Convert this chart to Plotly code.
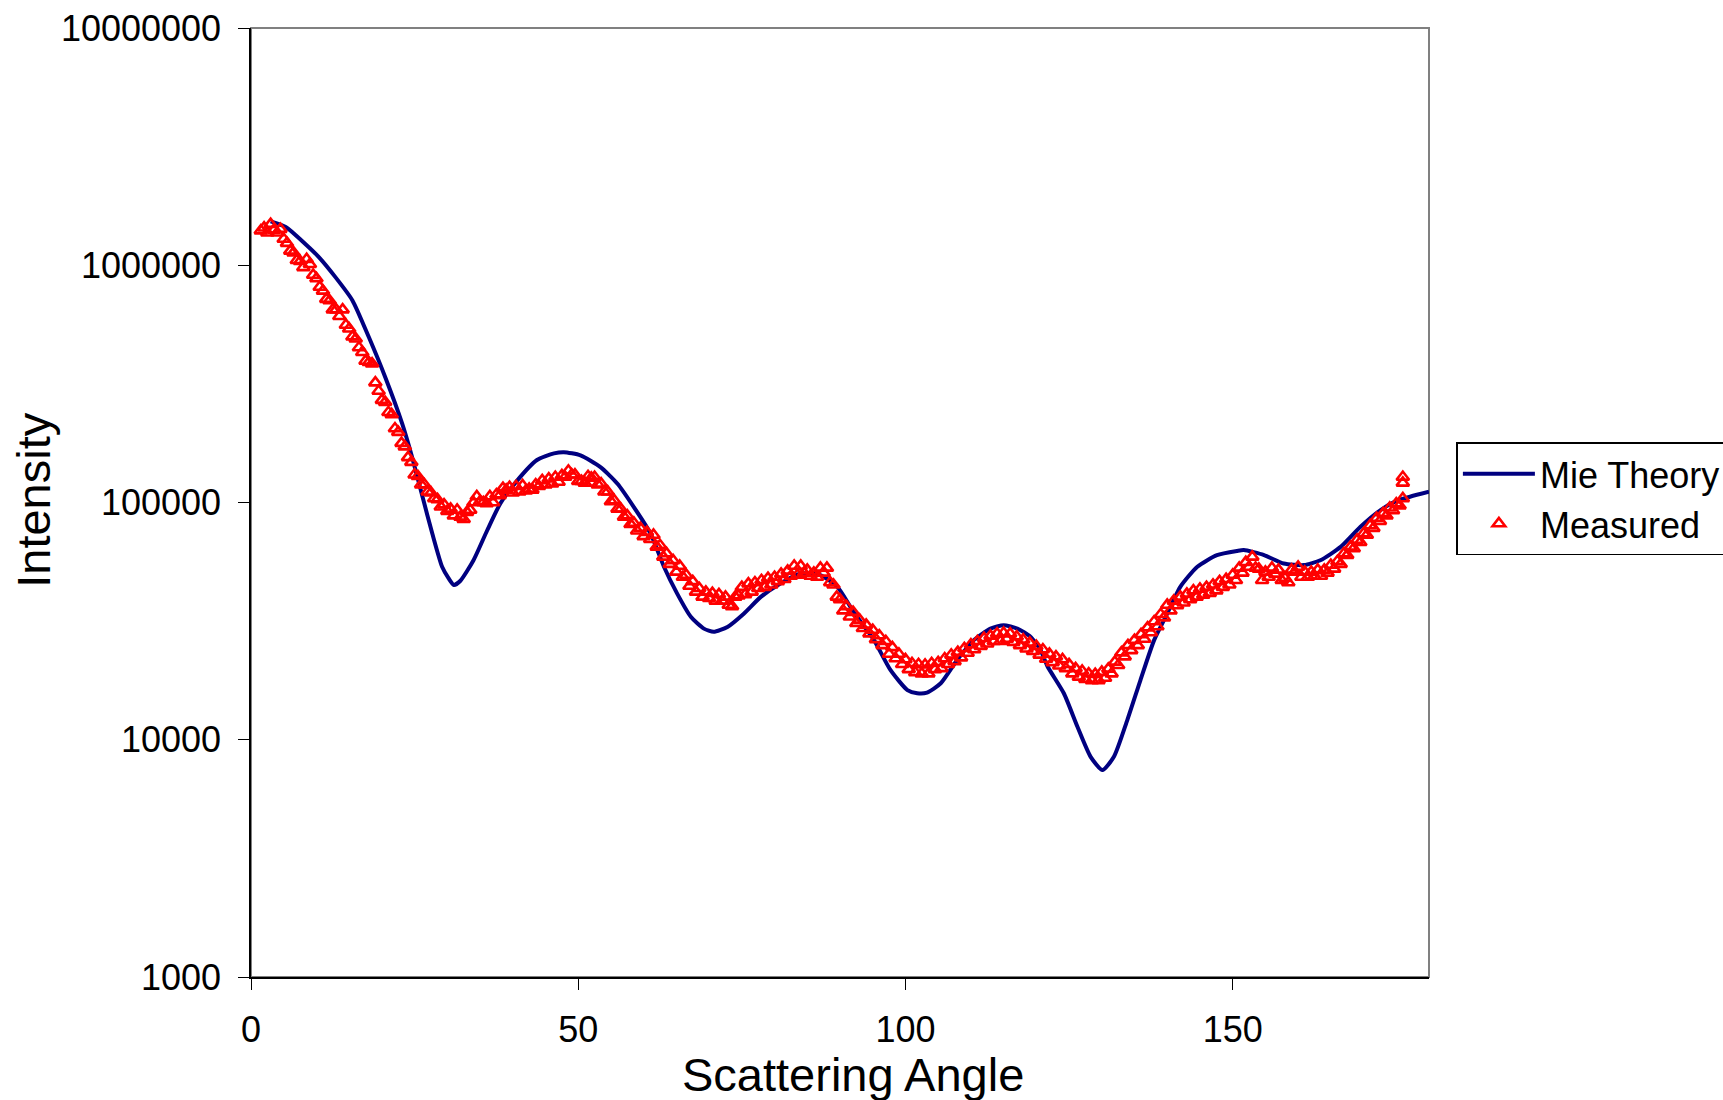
import plotly.graph_objects as go

# ---------------- data ----------------
mie_angle = [3.0, 5.3, 8.3, 10.4, 12.9, 15.5, 18.0, 20.5, 23.1, 24.6, 26.2, 27.7, 29.2, 30.2,
             31.0, 32.0, 34.0, 36.1, 38.1, 40.7, 43.7, 46.3, 47.8, 50.35, 53.4, 56.0, 58.5,
             61.05, 63.1, 65.1, 67.2, 69.2, 70.7, 72.8, 75.3, 77.9, 80.9, 84.0, 87.0, 89.6,
             91.6, 92.6, 95.2, 97.7, 100.3, 101.8, 103.3, 105.4, 107.9, 110.45, 113.0, 115.0,
             117.1, 119.1, 120.6, 121.7, 124.2, 126.25, 128.3, 130.1, 131.85, 133.9, 135.9,
             138.0, 140.0, 142.0, 144.6, 147.6, 150.7, 151.7, 154.8, 157.8, 160.9, 163.4,
             166.5, 169.5, 172.6, 175.2, 177.2, 180.0]
mie_intensity = [1.53e6, 1.45e6, 1.23e6, 1.08e6, 8.91e5, 7.11e5, 4.98e5, 3.38e5, 2.15e5, 1.56e5,
                 1.06e5, 7.40e4, 5.36e4, 4.79e4, 4.49e4, 4.68e4, 5.71e4, 7.64e4, 9.91e4, 1.24e5,
                 1.51e5, 1.61e5, 1.63e5, 1.58e5, 1.41e5, 1.20e5, 9.57e4, 7.40e4, 5.36e4, 4.14e4,
                 3.30e4, 2.94e4, 2.85e4, 2.99e4, 3.40e4, 4.00e4, 4.56e4, 5.02e4, 4.94e4, 4.41e4,
                 3.63e4, 3.30e4, 2.63e4, 1.97e4, 1.62e4, 1.57e4, 1.58e4, 1.73e4, 2.17e4, 2.63e4,
                 2.94e4, 3.04e4, 2.94e4, 2.72e4, 2.40e4, 2.04e4, 1.57e4, 1.14e4, 8.47e3, 7.45e3,
                 8.47e3, 1.21e4, 1.78e4, 2.63e4, 3.40e4, 4.41e4, 5.36e4, 6.00e4, 6.25e4, 6.30e4,
                 6.00e4, 5.53e4, 5.45e4, 5.71e4, 6.50e4, 7.89e4, 9.29e4, 1.02e5, 1.06e5, 1.11e5]

# measured samples every 0.5 degree from 1.5 to 176.0
measured_start, measured_step = 1.5, 0.5
measured_intensity = [
    1.40e6, 1.44e6, 1.37e6, 1.49e6, 1.41e6, 1.37e6, 1.42e6, 1.29e6, 1.24e6, 1.15e6,  # 1.5-6.0
    1.13e6, 1.05e6, 1.04e6, 9.8e5, 1.06e6, 1.01e6, 9.1e5, 8.8e5, 8.1e5, 7.8e5,      # 6.5-11.0
    7.2e5, 7.1e5, 6.5e5, 6.5e5, 6.1e5, 6.5e5, 5.6e5, 5.4e5, 5.0e5, 4.9e5,          # 11.5-16.0
    4.5e5, 4.3e5, 3.95e5, 3.9e5, 3.85e5, 3.2e5, 2.95e5, 2.7e5, 2.65e5, 2.4e5,      # 16.5-21.0
    2.35e5, 2.05e5, 1.98e5, 1.78e5, 1.72e5, 1.55e5, 1.48e5, 1.31e5, 1.29e5, 1.19e5,  # 21.5-26.0
    1.19e5, 1.11e5, 1.10e5, 1.04e5, 1.03e5, 9.6e4, 9.8e4, 9.2e4, 9.4e4, 8.8e4,    # 26.5-31.0
    9.3e4, 8.7e4, 8.5e4, 9.1e4, 9.3e4, 1.00e5, 1.06e5, 1.01e5, 1.00e5, 9.9e4,      # 31.5-36.0
    1.06e5, 1.00e5, 1.08e5, 1.07e5, 1.15e5, 1.13e5, 1.16e5, 1.10e5, 1.17e5, 1.11e5,  # 36.5-41.0
    1.18e5, 1.12e5, 1.14e5, 1.13e5, 1.19e5, 1.17e5, 1.24e5, 1.19e5, 1.26e5, 1.20e5,  # 41.5-46.0
    1.28e5, 1.22e5, 1.30e5, 1.28e5, 1.36e5, 1.31e5, 1.31e5, 1.23e5, 1.23e5, 1.21e5,  # 46.5-51.0
    1.29e5, 1.27e5, 1.28e5, 1.19e5, 1.20e5, 1.11e5, 1.11e5, 1.01e5, 1.02e5, 9.4e4,  # 51.5-56.0
    9.4e4, 8.7e4, 8.8e4, 8.1e4, 8.2e4, 7.6e4, 7.8e4, 7.2e4, 7.5e4, 7.0e4,          # 56.5-61.0
    7.3e4, 6.5e4, 6.6e4, 5.9e4, 6.1e4, 5.5e4, 5.7e4, 5.1e4, 5.4e4, 4.85e4,         # 61.5-66.0
    4.95e4, 4.45e4, 4.65e4, 4.2e4, 4.35e4, 4.0e4, 4.2e4, 3.95e4, 4.15e4, 3.85e4,   # 66.5-71.0
    4.1e4, 3.85e4, 4.0e4, 3.7e4, 3.65e4, 4.0e4, 4.05e4, 4.4e4, 4.1e4, 4.55e4,      # 71.5-76.0
    4.2e4, 4.6e4, 4.35e4, 4.7e4, 4.4e4, 4.8e4, 4.5e4, 4.85e4, 4.65e4, 5.0e4,       # 76.5-81.0
    4.75e4, 5.15e4, 4.9e4, 5.4e4, 4.95e4, 5.4e4, 5.05e4, 5.2e4, 4.9e4, 5.05e4,     # 81.5-86.0
    4.85e4, 5.3e4, 5.05e4, 5.3e4, 4.6e4, 4.5e4, 4.0e4, 3.9e4, 3.5e4, 3.65e4,       # 86.5-91.0
    3.3e4, 3.45e4, 3.1e4, 3.2e4, 2.95e4, 3.05e4, 2.8e4, 2.9e4, 2.65e4, 2.75e4,     # 91.5-96.0
    2.5e4, 2.6e4, 2.3e4, 2.45e4, 2.2e4, 2.3e4, 2.08e4, 2.18e4, 1.98e4, 2.1e4,      # 96.5-101.0
    1.92e4, 2.08e4, 1.9e4, 2.07e4, 1.9e4, 2.1e4, 1.98e4, 2.12e4, 2.0e4, 2.2e4,     # 101.5-106.0
    2.08e4, 2.28e4, 2.14e4, 2.34e4, 2.22e4, 2.43e4, 2.32e4, 2.52e4, 2.4e4, 2.6e4,  # 106.5-111.0
    2.48e4, 2.68e4, 2.54e4, 2.74e4, 2.6e4, 2.8e4, 2.6e4, 2.82e4, 2.66e4, 2.8e4,    # 111.5-116.0
    2.58e4, 2.72e4, 2.5e4, 2.64e4, 2.42e4, 2.56e4, 2.36e4, 2.48e4, 2.28e4, 2.4e4,  # 116.5-121.0
    2.19e4, 2.3e4, 2.12e4, 2.24e4, 2.05e4, 2.18e4, 2.0e4, 2.08e4, 1.9e4, 2.0e4,    # 121.5-126.0
    1.84e4, 1.95e4, 1.8e4, 1.9e4, 1.78e4, 1.89e4, 1.78e4, 1.93e4, 1.82e4, 1.99e4,  # 126.5-131.0
    1.9e4, 2.13e4, 2.06e4, 2.33e4, 2.24e4, 2.5e4, 2.38e4, 2.63e4, 2.5e4, 2.78e4,   # 131.5-136.0
    2.66e4, 2.97e4, 2.83e4, 3.15e4, 3.0e4, 3.38e4, 3.27e4, 3.7e4, 3.5e4, 3.85e4,   # 136.5-141.0
    3.68e4, 4.0e4, 3.78e4, 4.12e4, 3.9e4, 4.25e4, 4.0e4, 4.32e4, 4.08e4, 4.4e4,    # 141.5-146.0
    4.15e4, 4.5e4, 4.25e4, 4.65e4, 4.4e4, 4.75e4, 4.5e4, 4.95e4, 4.7e4, 5.3e4,     # 146.5-151.0
    5.05e4, 5.6e4, 5.35e4, 5.9e4, 5.3e4, 5.25e4, 4.7e4, 5.1e4, 4.85e4, 5.3e4,      # 151.5-156.0
    5.0e4, 5.2e4, 4.7e4, 4.8e4, 4.6e4, 5.2e4, 5.1e4, 5.35e4, 4.85e4, 5.1e4,        # 156.5-161.0
    4.85e4, 5.1e4, 4.9e4, 5.2e4, 4.9e4, 5.2e4, 5.05e4, 5.45e4, 5.25e4, 5.65e4,     # 161.5-166.0
    5.5e4, 6.1e4, 6.0e4, 6.5e4, 6.4e4, 6.95e4, 6.8e4, 7.4e4, 7.3e4, 8.0e4,         # 166.5-171.0
    7.8e4, 8.6e4, 8.35e4, 9.0e4, 8.8e4, 9.5e4, 9.25e4, 9.9e4, 9.7e4, 1.04e5,       # 171.5-176.0
]
measured_angle = [measured_start + i * measured_step for i in range(len(measured_intensity))]
# two high readings at the last angle
extra_angle = [176.0, 176.0]
extra_intensity = [1.21e5, 1.28e5]
measured_angle += extra_angle
measured_intensity += extra_intensity

y_tickvals = [1000, 10000, 100000, 1000000, 10000000]
y_ticktext = ["1000", "10000", "100000", "1000000", "10000000"]
x_tickvals = [0, 50, 100, 150]

FONT = "Liberation Sans, Arial, sans-serif"

fig = go.Figure()
fig.add_trace(go.Scatter(
    x=mie_angle, y=mie_intensity, mode="lines", name="Mie Theory",
    line=dict(color="#000080", width=4, shape="spline", smoothing=0.6),
    legendgroup="a",
))
fig.add_trace(go.Scatter(
    x=measured_angle, y=measured_intensity, mode="markers", name="Measured",
    marker=dict(symbol="triangle-up-open", size=11, color="#FF0000",
                line=dict(color="#FF0000", width=2.6)),
    legendgroup="b",
))

L, R, T, B = 250.5, 294.4, 27.5, 123
W, H = 1723, 1100
pw, ph = W - L - R, H - T - B

fig.update_layout(
    width=W, height=H,
    margin=dict(l=L, r=R, t=T, b=B, autoexpand=False),
    paper_bgcolor="white", plot_bgcolor="white",
    font=dict(family=FONT, color="black", size=36),
    showlegend=True,
    legend=dict(
        x=(1456 - L) / pw, xanchor="left",
        y=(H - B - 442) / ph, yanchor="top",
        bordercolor="black", borderwidth=1.5, bgcolor="white",
        font=dict(family=FONT, size=36, color="black"),
        tracegroupgap=0, itemwidth=72,
    ),
    xaxis=dict(
        range=[0, 180], tickvals=x_tickvals, ticks="outside", ticklen=11,
        tickwidth=1, tickcolor="black", showgrid=False, zeroline=False,
        showline=True, linecolor="black", linewidth=1.5,
        tickfont=dict(family=FONT, size=36, color="black"),
        ticklabelstandoff=9,
    ),
    yaxis=dict(
        type="log", range=[3, 7], tickvals=y_tickvals, ticktext=y_ticktext,
        ticks="outside", ticklen=11, tickwidth=1, tickcolor="black",
        showgrid=False, zeroline=False, showline=True, linecolor="black",
        linewidth=1.5, tickfont=dict(family=FONT, size=36, color="black"),
        ticklabelstandoff=10,
    ),
    shapes=[dict(type="rect", xref="paper", yref="paper", x0=0, x1=1, y0=0, y1=1,
                 line=dict(color="#808080", width=2), layer="below")],
    annotations=[
        dict(text="Scattering Angle", xref="paper", yref="paper",
             x=(852.7 - L) / pw, y=(H - B - 1075) / ph, xanchor="center", yanchor="middle",
             showarrow=False, font=dict(family=FONT, size=47, color="black")),
        dict(text="Intensity", xref="paper", yref="paper",
             x=(33 - L) / pw, y=(H - B - 500) / ph, xanchor="center", yanchor="middle",
             textangle=-90, showarrow=False, font=dict(family=FONT, size=47, color="black")),
    ],
)

fig.write_html("out.html")
